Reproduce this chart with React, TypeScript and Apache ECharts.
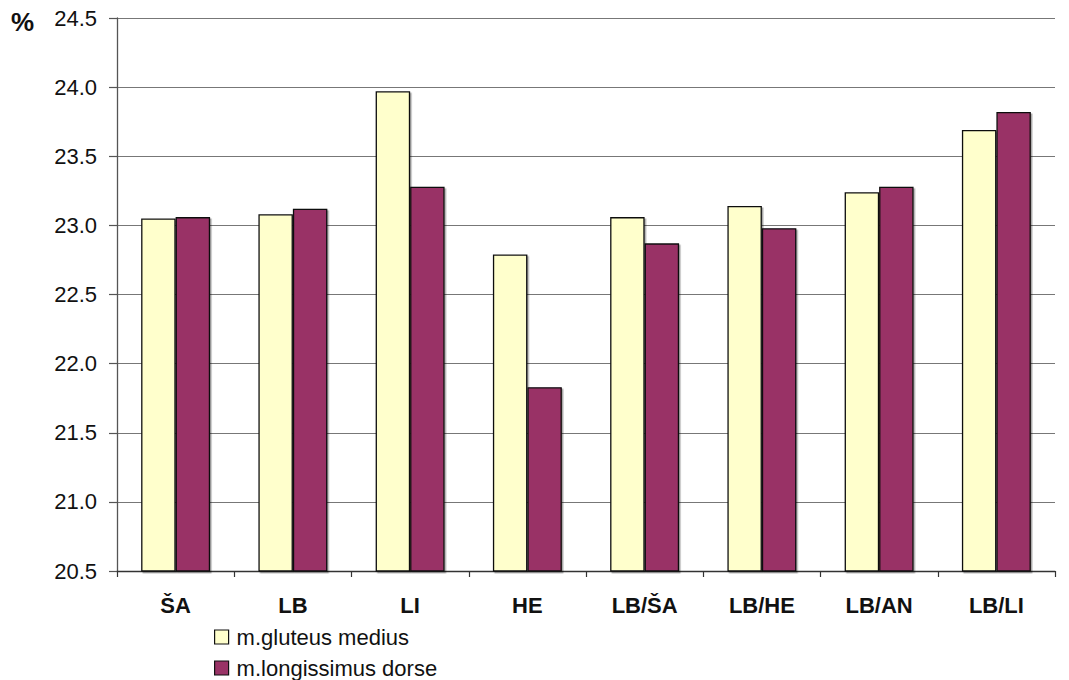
import React, { useEffect, useRef } from "react";
import * as echarts from "echarts";

const categories = ["ŠA", "LB", "LI", "HE", "LB/ŠA", "LB/HE", "LB/AN", "LB/LI"];
const gluteusMedius = [23.05, 23.08, 23.97, 22.79, 23.06, 23.14, 23.24, 23.69];
const longissimusDorse = [23.06, 23.12, 23.28, 21.83, 22.87, 22.98, 23.28, 23.82];
const seriesNames = ["m.gluteus medius", "m.longissimus dorse"];
const yMin = 20.5;
const yMax = 24.5;
const yStep = 0.5;

const FONT = "'Liberation Sans', Arial, sans-serif";

export default function App() {
  const ref = useRef<HTMLDivElement>(null);

  useEffect(() => {
    if (!ref.current) return;
    const chart = echarts.init(ref.current, undefined, { renderer: "svg" });
    const barStyle = (color: string) => ({
      color,
      borderColor: "#111",
      borderWidth: 1.3,
      shadowColor: "rgba(0,0,0,0.35)",
      shadowOffsetX: 1.5,
      shadowOffsetY: 1.5,
      shadowBlur: 0,
    });
    // one legend block per series, stacked vertically under the axis
    const legendRow = (name: string, top: number) => ({
      orient: "horizontal",
      left: 214,
      top,
      padding: 0,
      itemWidth: 14,
      itemHeight: 14,
      icon: "rect",
      textStyle: {
        fontSize: 22,
        color: "#111",
        fontFamily: FONT,
        lineHeight: 22,
        padding: [0, 0, 0, 3],
      },
      itemStyle: { borderColor: "#111", borderWidth: 1.2 },
      data: [name],
    });
    chart.setOption({
      animation: false,
      backgroundColor: "#fff",
      textStyle: { fontFamily: FONT },
      grid: { left: 117, right: 14, top: 18, bottom: 109, containLabel: false },
      graphic: [
        {
          type: "text",
          left: 11,
          top: 9,
          style: { text: "%", font: `bold 26px ${FONT}`, fill: "#111" },
        },
      ],
      legend: [legendRow(seriesNames[0], 626), legendRow(seriesNames[1], 657)],
      xAxis: {
        type: "category",
        data: categories,
        axisLine: { show: true, lineStyle: { color: "#333", width: 1.3 } },
        axisTick: { show: true, length: 6, lineStyle: { color: "#333", width: 1.2 } },
        axisLabel: {
          margin: 23,
          fontSize: 22,
          fontWeight: "bold",
          color: "#111",
          fontFamily: FONT,
        },
      },
      yAxis: {
        type: "value",
        min: yMin,
        max: yMax,
        interval: yStep,
        axisLine: { show: true, lineStyle: { color: "#555", width: 1.3 } },
        axisTick: { show: true, length: 8, lineStyle: { color: "#555", width: 1.2 } },
        splitLine: { show: true, lineStyle: { color: "#777", width: 1.2 } },
        axisLabel: {
          margin: 20,
          fontSize: 22,
          color: "#111",
          fontFamily: FONT,
          formatter: (v: number) => v.toFixed(1),
        },
      },
      series: [
        {
          name: seriesNames[0],
          type: "bar",
          data: gluteusMedius,
          barWidth: "29.4%",
          barGap: "0%",
          itemStyle: barStyle("#FFFFCC"),
        },
        {
          name: seriesNames[1],
          type: "bar",
          data: longissimusDorse,
          barWidth: "29.4%",
          barGap: "0%",
          itemStyle: barStyle("#993366"),
        },
      ],
    });
    return () => chart.dispose();
  }, []);

  return (
    <div
      ref={ref}
      style={{ width: 1069, height: 680, position: "absolute", left: 0, top: 0 }}
    />
  );
}
